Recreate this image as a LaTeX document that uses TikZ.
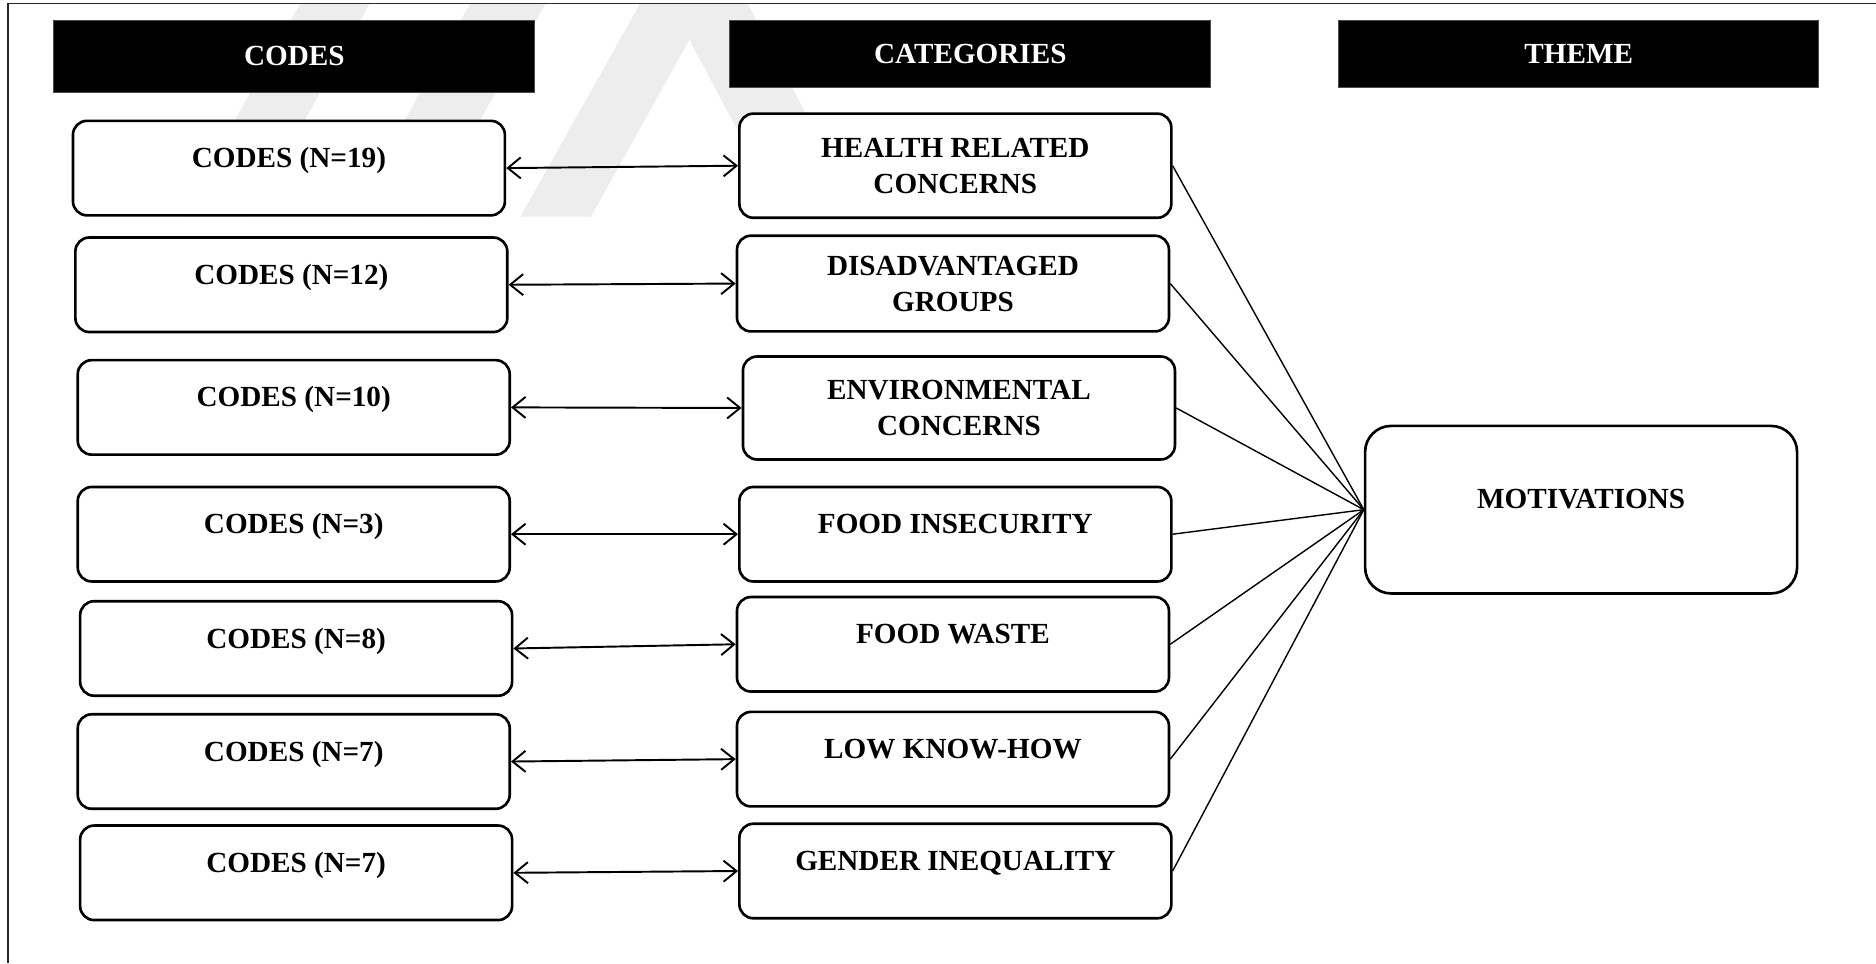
\documentclass[tikz,border=0pt]{standalone}
\usepackage{fontspec}
\setmainfont{Liberation Serif}
\usetikzlibrary{arrows.meta}

\tikzset{
  headbox/.style={fill=black, draw=black!70, line width=0.6pt, text=white,
    minimum width=9.62cm, minimum height=1.34cm, inner sep=0pt},
  roundbox/.style={draw=black, fill=white, line width=1.5pt, rounded corners=0.28cm,
    minimum width=8.638cm, minimum height=1.89cm, align=center, inner sep=0pt},
  oneline/.style={text height=11.5pt, text depth=12pt},
  twoway/.style={{Straight Barb[length=0.26cm,width=0.42cm]}-{Straight Barb[length=0.26cm,width=0.42cm]},
    line width=1.1pt},
  spoke/.style={line width=0.8pt},
  stripe/.style={fill=black!7, draw=none}
}

\begin{document}
\begin{tikzpicture}[x=0.023928cm, y=-0.023928cm,
  font=\bfseries\fontsize{16.6}{20.4}\selectfont]
\useasboundingbox (0,0) rectangle (1568,805);

% faint background stripes
\fill[stripe] (251,3) -- (309,3) -- (210,181) -- (151,181) -- cycle;
\fill[stripe] (393,3) -- (456,3) -- (356,181) -- (293,181) -- cycle;
\fill[stripe] (535,3) -- (593,3) -- (494,181) -- (435,181) -- cycle;
\fill[stripe] (560,3) -- (625,3) -- (719,181) -- (655,181) -- cycle;

% page frame
\draw[line width=1pt, black!85] (7,805) -- (7,3) -- (1568,3);

% column headers
\node[headbox, minimum height=1.436cm] (hcodes) at (246,47) {CODES};
\node[headbox] (hcat) at (811,45) {CATEGORIES};
\node[headbox, minimum width=9.595cm] (htheme) at (1319.5,45) {THEME};

% codes
\node[roundbox, oneline] (c1) at (241.5,140.5) {CODES (N=19)};
\node[roundbox, oneline] (c2) at (243.5,238)   {CODES (N=12)};
\node[roundbox, oneline] (c3) at (245.5,340.5) {CODES (N=10)};
\node[roundbox, oneline] (c4) at (245.5,446.5) {CODES (N=3)};
\node[roundbox, oneline] (c5) at (247.5,542)   {CODES (N=8)};
\node[roundbox, oneline] (c6) at (245.5,636.5) {CODES (N=7)};
\node[roundbox, oneline] (c7) at (247.5,729.5) {CODES (N=7)};

% categories
\node[roundbox, minimum height=2.082cm] (k1) at (798.5,138.5) {HEALTH RELATED\\CONCERNS};
\node[roundbox, minimum height=1.914cm] (k2) at (796.5,237)   {DISADVANTAGED\\GROUPS};
\node[roundbox, minimum height=2.058cm] (k3) at (801.5,341)   {ENVIRONMENTAL\\CONCERNS};
\node[roundbox, oneline] (k4) at (798.5,446.5) {FOOD INSECURITY};
\node[roundbox, oneline] (k5) at (796.5,538.5) {FOOD WASTE};
\node[roundbox, oneline] (k6) at (796.5,634.5) {LOW KNOW-HOW};
\node[roundbox, oneline] (k7) at (798.5,728)   {GENDER INEQUALITY};

% theme
\node[roundbox, minimum height=3.35cm, rounded corners=0.52cm,
      text height=11.5pt, text depth=12.5pt] (mot) at (1321.5,426) {MOTIVATIONS};

% code <-> category links
\foreach \i in {1,...,7}
  \draw[twoway] (c\i.east) -- (k\i.west);

% category -> theme spokes
\foreach \i in {1,...,7}
  \draw[spoke] (k\i.east) -- (mot.west);
\end{tikzpicture}
\end{document}
